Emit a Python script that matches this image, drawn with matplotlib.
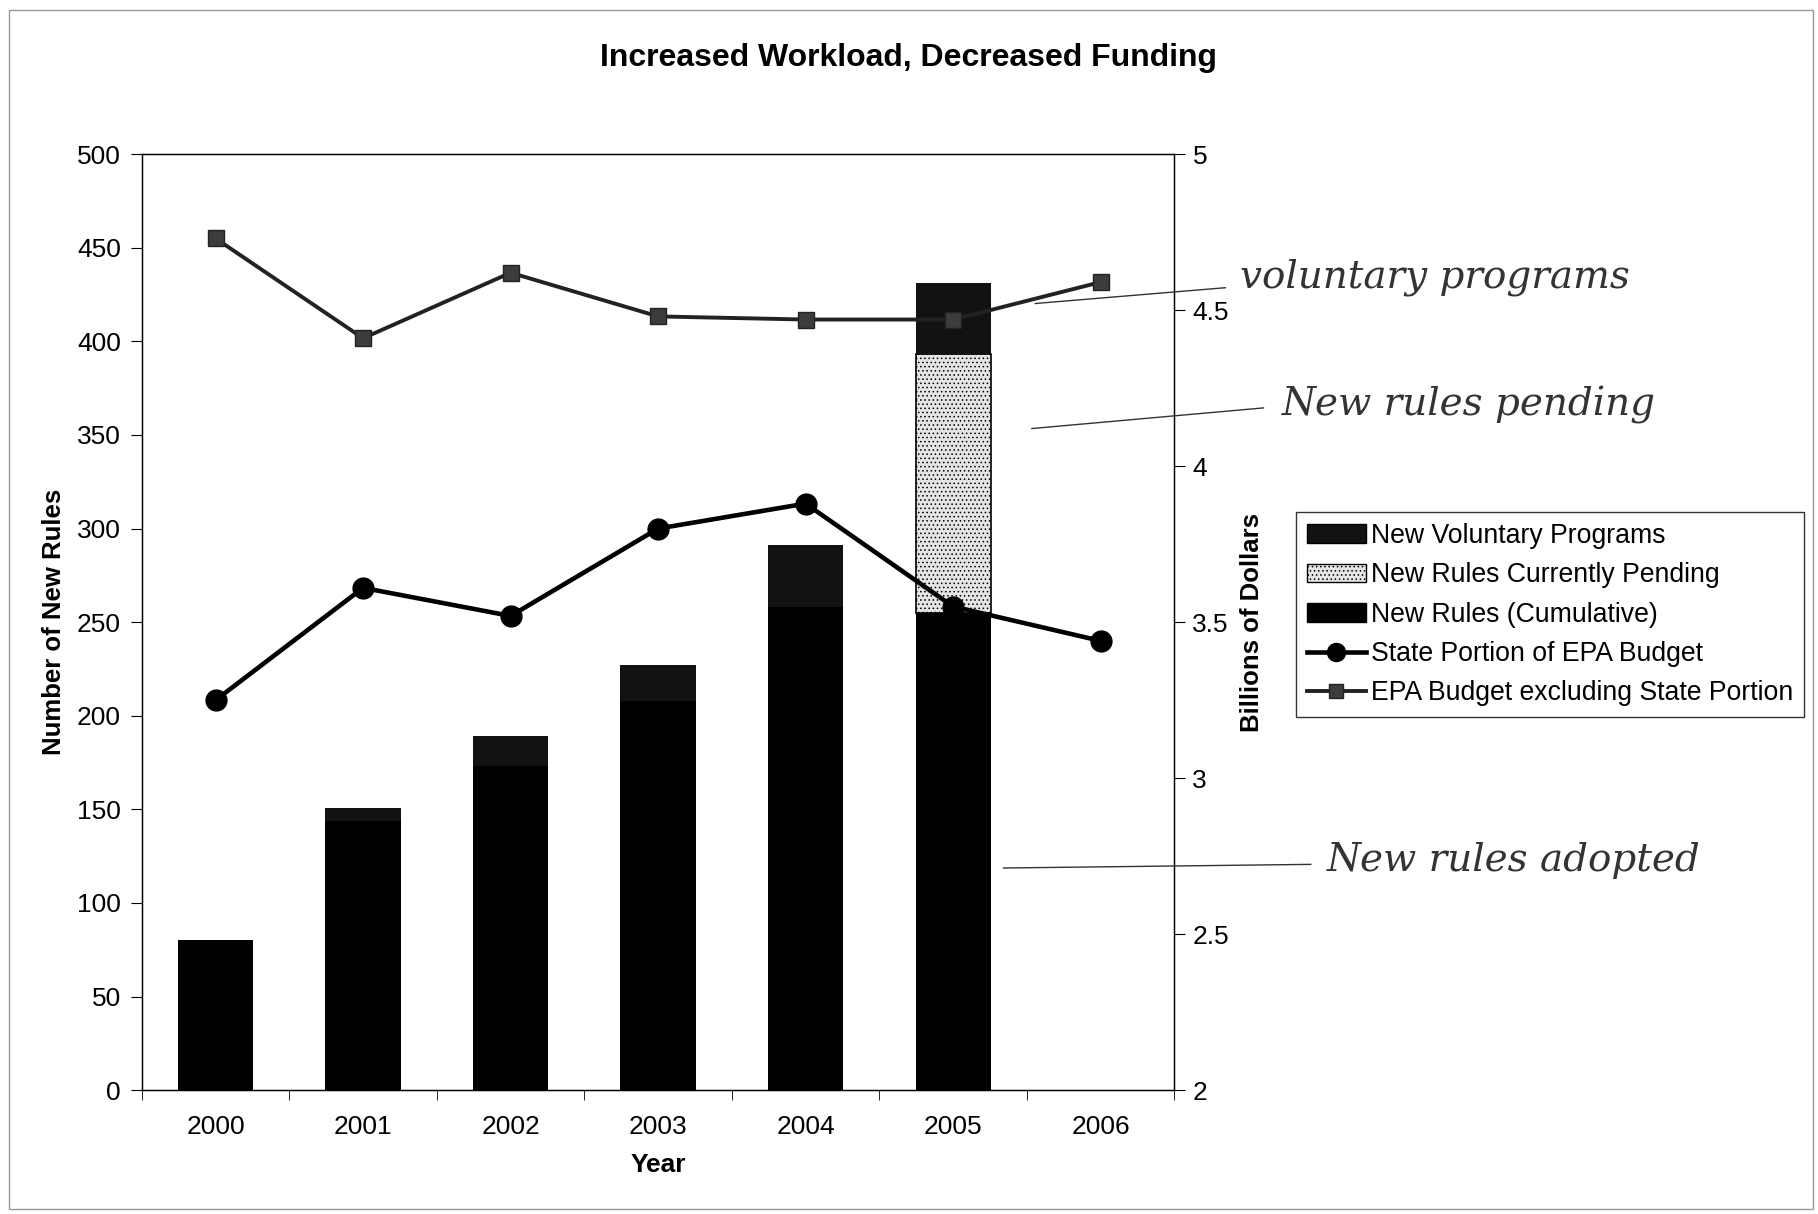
import numpy as np
import matplotlib
matplotlib.use('Agg')
import matplotlib.pyplot as plt
from matplotlib.patches import Patch, Rectangle
from matplotlib.lines import Line2D

plt.rcParams['font.family'] = ['Liberation Sans', 'DejaVu Sans']
plt.rcParams['hatch.color'] = '#8a8a8a'
plt.rcParams['hatch.linewidth'] = 0.6

# values
years = ['2000', '2001', '2002', '2003', '2004', '2005', '2006']
rules_cum = [80, 144, 173, 208, 258, 255, 0]
voluntary = [0, 7, 16, 19, 33, 38, 0]
pending = [0, 0, 0, 0, 0, 138, 0]
state_budget = [3.25, 3.61, 3.52, 3.80, 3.88, 3.55, 3.44]
epa_excl_state = [4.73, 4.41, 4.62, 4.48, 4.47, 4.47, 4.59]

x = np.arange(len(years))
rules_cum = np.array(rules_cum)
pending = np.array(pending)
voluntary = np.array(voluntary)

fig = plt.figure(figsize=(18.18, 12.14), dpi=100)
ax = fig.add_axes([0.078, 0.102, 0.568, 0.771])

# stacked bars
w = 0.51
ax.bar(x, rules_cum, w, color='black', lw=0, zorder=2)
ax.bar(x, pending, w, bottom=rules_cum, color='#e4e4e4',
       edgecolor=['black' if p > 0 else 'none' for p in pending],
       lw=1.2, hatch='....', zorder=2)
ax.bar(x, voluntary, w, bottom=rules_cum + pending, color='#121212', lw=0, zorder=2)

ax.set_xlim(-0.5, len(years) - 0.5)
ax.set_ylim(0, 500)
ax.set_yticks(np.arange(0, 501, 50))
ax.set_xticks(x)
ax.set_xticklabels(years)
ax.set_xticks(np.arange(-0.5, len(years)), minor=True)
ax.tick_params(axis='x', which='major', length=0, pad=18, labelsize=19)
ax.tick_params(axis='x', which='minor', length=7, direction='out')
ax.tick_params(axis='y', length=8, direction='out', pad=7, labelsize=19)
ax.set_xlabel('Year', fontsize=19, fontweight='bold', labelpad=10)
ax.set_ylabel('Number of New Rules', fontsize=18.5, fontweight='bold', labelpad=8)
for s in ax.spines.values():
    s.set_linewidth(1.0)

# budget lines on the right axis
ax2 = ax.twinx()
ax2.plot(x, state_budget, color='black', lw=3.3, marker='o', markersize=15, zorder=3)
ax2.plot(x, epa_excl_state, color='#222222', lw=2.8, marker='s', markersize=11,
         markerfacecolor='#3c3c3c', markeredgecolor='#222222', zorder=3)
ax2.set_ylim(2, 5)
ax2.set_yticks([2, 2.5, 3, 3.5, 4, 4.5, 5])
ax2.set_yticklabels(['2', '2.5', '3', '3.5', '4', '4.5', '5'])
ax2.tick_params(axis='y', length=8, direction='out', pad=5, labelsize=19)
ax2.set_ylabel('Billions of Dollars', fontsize=18.5, fontweight='bold', labelpad=8)

fig.text(0.5, 0.952, 'Increased Workload, Decreased Funding', ha='center', va='center',
         fontsize=23, fontweight='bold')

handles = [
    Patch(facecolor='#121212', edgecolor='black'),
    Patch(facecolor='#e4e4e4', edgecolor='black', hatch='....'),
    Patch(facecolor='black', edgecolor='black'),
    Line2D([], [], color='black', lw=3.3, marker='o', markersize=13),
    Line2D([], [], color='#222222', lw=2.8, marker='s', markersize=10,
           markerfacecolor='#3c3c3c'),
]
labels = ['New Voluntary Programs', 'New Rules Currently Pending',
          'New Rules (Cumulative)', 'State Portion of EPA Budget',
          'EPA Budget excluding State Portion']
leg = fig.legend(handles, labels, loc='upper left', bbox_to_anchor=(0.713, 0.578),
                 fontsize=19.2, frameon=True, fancybox=False, edgecolor='black',
                 handlelength=2.2, handletextpad=0.2, labelspacing=0.5,
                 borderpad=0.4, borderaxespad=0)
leg.get_frame().set_linewidth(1.0)

# handwritten notes with pointer lines
notes = [
    ('voluntary programs', (0.5695, 0.750), (0.674, 0.763), (0.682, 0.772)),
    ('New rules pending', (0.5676, 0.647), (0.695, 0.664), (0.705, 0.666)),
    ('New rules adopted', (0.552, 0.285), (0.721, 0.288), (0.730, 0.291)),
]
for txt, p0, p1, pt in notes:
    fig.add_artist(Line2D([p0[0], p1[0]], [p0[1], p1[1]], color='#333333', lw=1.0))
    fig.text(pt[0], pt[1], txt, fontsize=28, style='italic', color='#333333',
             family='DejaVu Serif', va='center', ha='left')

# scanned page frame
fig.add_artist(Rectangle((0.005, 0.004), 0.992, 0.988, transform=fig.transFigure,
                         fill=False, edgecolor='#999999', lw=1.0))

fig.savefig('out.png', dpi=100)
